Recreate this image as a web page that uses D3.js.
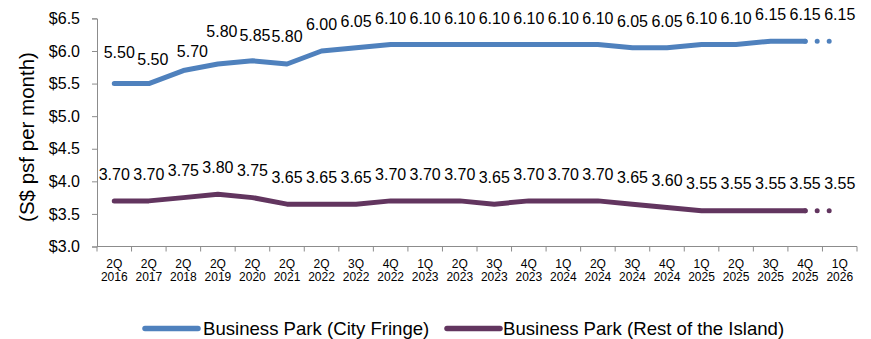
<!DOCTYPE html>
<html>
<head>
<meta charset="utf-8">
<script src="https://cdn.jsdelivr.net/npm/d3@7/dist/d3.min.js"></script>
<style>
  html, body { margin: 0; padding: 0; background: #fff; }
  svg { display: block; font-family: "Liberation Sans", Arial, sans-serif; }
</style>
</head>
<body>
<svg id="chart" width="871" height="339"></svg>
<script>
// Quarterly rents, S$ psf per month
const quarters = ["2Q 2016","2Q 2017","2Q 2018","2Q 2019","2Q 2020","2Q 2021","2Q 2022","3Q 2022",
  "4Q 2022","1Q 2023","2Q 2023","3Q 2023","4Q 2023","1Q 2024","2Q 2024","3Q 2024","4Q 2024",
  "1Q 2025","2Q 2025","3Q 2025","4Q 2025","1Q 2026"];
const cityFringe = [5.50,5.50,5.70,5.80,5.85,5.80,6.00,6.05,6.10,6.10,6.10,6.10,6.10,6.10,6.10,
  6.05,6.05,6.10,6.10,6.15,6.15,6.15];
const restOfIsland = [3.70,3.70,3.75,3.80,3.75,3.65,3.65,3.65,3.70,3.70,3.70,3.65,3.70,3.70,3.70,
  3.65,3.60,3.55,3.55,3.55,3.55,3.55];
const yTicks = [3.0,3.5,4.0,4.5,5.0,5.5,6.0,6.5];
const seriesNames = ["Business Park (City Fringe)", "Business Park (Rest of the Island)"];

const colors = ["#4F81BD", "#62355F"];
const svg = d3.select("#chart");

const x = d3.scaleBand().domain(quarters).range([97, 857]);
const y = d3.scaleLinear().domain([3.0, 6.5]).range([246.5, 18.4]);
const cx = q => x(q) + x.bandwidth() / 2;

// Y axis
const yAxis = svg.append("g").attr("transform", "translate(97,0)")
  .call(d3.axisLeft(y).tickValues(yTicks).tickSize(5).tickPadding(12)
    .tickFormat(d => "$" + d3.format(".1f")(d)));
yAxis.select(".domain").attr("stroke", "#8c8c8c").attr("stroke-width", 1);
yAxis.selectAll(".tick line").attr("stroke", "#8c8c8c");
yAxis.selectAll(".tick text").attr("font-size", 16).attr("fill", "#000")
  .attr("font-family", "Liberation Sans, Arial, sans-serif");

// X axis with ticks at the category boundaries
const xg = svg.append("g");
xg.append("line").attr("x1", 97).attr("x2", 857).attr("y1", 246.5).attr("y2", 246.5)
  .attr("stroke", "#8c8c8c");
const bounds = quarters.map(q => x(q)).concat([x.range()[1]]);
xg.selectAll("line.tk").data(bounds).join("line").attr("class", "tk")
  .attr("x1", d => d).attr("x2", d => d).attr("y1", 246.5).attr("y2", 251.5)
  .attr("stroke", "#8c8c8c");
const xl = xg.selectAll("text.ql").data(quarters).join("text").attr("class", "ql")
  .attr("text-anchor", "middle").attr("font-size", 12).attr("fill", "#000")
  .attr("x", d => cx(d));
xl.append("tspan").attr("x", d => cx(d)).attr("y", 267.5).text(d => d.split(" ")[0]);
xl.append("tspan").attr("x", d => cx(d)).attr("y", 280.5).text(d => d.split(" ")[1]);

// Y axis title
svg.append("text").attr("transform", "translate(34,137) rotate(-90)")
  .attr("text-anchor", "middle").attr("font-size", 20.5).attr("fill", "#000")
  .text("(S$ psf per month)");

// Label nudges for the crowded early City Fringe points
const nudge = {0: [5, -31], 1: [4, -24], 2: [9, -19.5], 3: [4, -33], 4: [2.5, -25], 5: [0, -28]};

[cityFringe, restOfIsland].forEach((vals, s) => {
  const pts = quarters.map((q, i) => [cx(q), y(vals[i])]);
  const last = pts.length - 1;
  // Solid line up to the latest actual quarter
  svg.append("path").attr("d", d3.line()(pts.slice(0, last)))
    .attr("fill", "none").attr("stroke", colors[s]).attr("stroke-width", 5)
    .attr("stroke-linejoin", "round").attr("stroke-linecap", "round");
  // Dotted forecast segment
  svg.append("path").attr("d", d3.line()(pts.slice(last - 1)))
    .attr("fill", "none").attr("stroke", colors[s]).attr("stroke-width", 5)
    .attr("stroke-linecap", "round").attr("stroke-dasharray", "0 12");
  // Value labels
  svg.append("g").selectAll("text").data(vals).join("text")
    .attr("text-anchor", "middle").attr("font-size", 16).attr("fill", "#000")
    .attr("x", (d, i) => pts[i][0] + (s === 0 && nudge[i] ? nudge[i][0] : 0))
    .attr("y", (d, i) => pts[i][1] + (s === 0 && nudge[i] ? nudge[i][1] : (s === 0 ? -26.5 : -27)) + 5.7)
    .text(d => d3.format(".2f")(d));
});

// Legend
const legendItems = [{x1: 143, x2: 200, tx: 203}, {x1: 445, x2: 502, tx: 503}];
legendItems.forEach((p, i) => {
  svg.append("line").attr("x1", p.x1 + 2).attr("x2", p.x2 - 2).attr("y1", 328.5).attr("y2", 328.5)
    .attr("stroke", colors[i]).attr("stroke-width", 5.5).attr("stroke-linecap", "round");
  svg.append("text").attr("x", p.tx).attr("y", 335).attr("font-size", 18.6).attr("fill", "#000")
    .text(seriesNames[i]);
});
</script>
</body>
</html>
